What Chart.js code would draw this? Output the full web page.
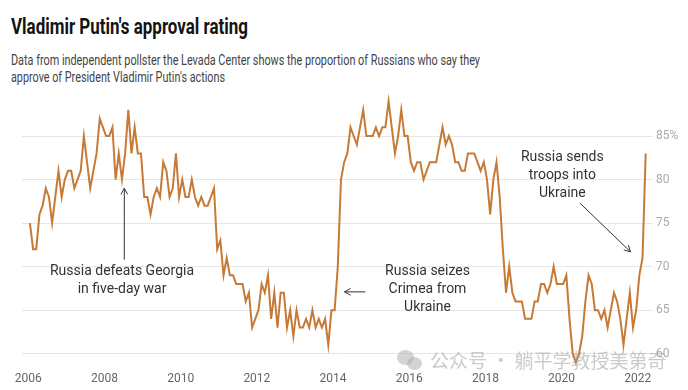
<!DOCTYPE html>
<html>
<head>
<meta charset="utf-8">
<script src="https://cdn.jsdelivr.net/npm/chart.js"></script>
<style>
  html, body { margin: 0; padding: 0; background: #fff; }
  body { width: 688px; height: 390px; position: relative; overflow: hidden; font-family: Roboto, sans-serif; }
  .txt { position: absolute; left: 11px; white-space: nowrap; line-height: 1; transform-origin: 0 0; }
  #title { top: 16px; font-size: 22px; font-weight: 700; color: #141414; }
  #sub1 { top: 53px; font-size: 14px; color: #444; }
  #sub2 { top: 70px; font-size: 14px; color: #444; }
  #mark { position: absolute; left: 430px; top: 350px; font-family: "Noto Sans CJK SC", sans-serif; font-size: 19px; color: rgba(160,160,160,0.55); white-space: nowrap; line-height: 1; }
  .bub { position: absolute; border-radius: 50%; background: rgba(170,170,170,0.5); }
  #chart { position: absolute; left: 0; top: 0; }
</style>
</head>
<body>
<div class="txt" id="title" data-w="237">Vladimir Putin's approval rating</div>
<div class="txt" id="sub1" data-w="469">Data from independent pollster the Levada Center shows the proportion of Russians who say they</div>
<div class="txt" id="sub2" data-w="214">approve of President Vladimir Putin's actions</div>
<canvas id="chart" width="688" height="390"></canvas>
<div class="bub" style="left:397px;top:350px;width:17px;height:15px;"></div>
<div class="bub" style="left:407px;top:357px;width:15px;height:13px;"></div>
<div id="mark">公众号 · 躺平学教授美第奇</div>
<script>
// monthly approval (%), Levada Center, Jan 2006 .. Mar 2022
const startYear = 2006;
const approval = [
  75, 72, 72, 76, 77, 79, 78, 75, 78, 81, 78, 80,   // 2006
  81, 81, 79, 80, 81, 85, 82, 79, 81, 83, 87, 86,   // 2007
  85, 85, 86, 80, 83, 80, 83, 88, 83, 86, 83, 83,   // 2008
  78, 78, 76, 78, 79, 78, 82, 81, 78, 79, 83, 78,   // 2009
  80, 78, 78, 80, 78, 77, 78, 77, 77, 78, 79, 72,   // 2010
  73, 69, 71, 69, 69, 68, 68, 68, 66, 67, 63, 64,   // 2011
  65, 68, 67, 69, 64, 67, 63, 67, 67, 63, 65, 62,   // 2012
  65, 63, 63, 64, 63, 65, 63, 64, 63, 64, 61, 65,   // 2013
  65, 70, 80, 82, 83, 86, 85, 84, 86, 88, 85, 85,   // 2014
  85, 86, 85, 86, 86, 89, 86, 83, 85, 88, 85, 85,   // 2015
  82, 81, 82, 82, 80, 81, 82, 82, 82, 84, 86, 84,   // 2016
  85, 84, 82, 82, 81, 81, 83, 83, 83, 82, 81, 82,   // 2017
  80, 76, 80, 82, 78, 72, 67, 70, 67, 66, 66, 66,   // 2018
  64, 64, 64, 66, 66, 68, 68, 67, 68, 70, 68, 68,   // 2019
  68, 69, 64, 60, 59, 60, 62, 66, 69, 68, 65, 65,   // 2020
  64, 65, 63, 65, 67, 66, 64, 61, 64, 67, 63, 65,   // 2021
  69, 71, 83                                        // 2022
];
const xTicks = [2006, 2008, 2010, 2012, 2014, 2016, 2018, 2020, 2022];
const yTicks = [60, 65, 70, 75, 80, 85];

const points = approval.map((v, i) => ({ x: startYear + (i + 0.5) / 12, y: v }));

// notes in data coordinates
const notes = [
  { lines: ['Russia defeats Georgia', 'in five-day war'], x: 2008.46, y: 69.4,
    arrow: [[2008.52, 70.8], [2008.52, 79.0]] },
  { lines: ['Russia seizes', 'Crimea from', 'Ukraine'], x: 2016.48, y: 69.4,
    arrow: [[2014.85, 67.1], [2014.3, 67.1]] },
  { lines: ['Russia sends', 'troops into', 'Ukraine'], x: 2020.02, y: 82.5,
    arrow: [[2020.48, 77.3], [2021.81, 71.7]] }
];

function drawArrow(ctx, x1, y1, x2, y2) {
  const a = Math.atan2(y2 - y1, x2 - x1), h = 7;
  ctx.beginPath();
  ctx.moveTo(x1, y1);
  ctx.lineTo(x2, y2);
  ctx.moveTo(x2 - h * Math.cos(a - 0.5), y2 - h * Math.sin(a - 0.5));
  ctx.lineTo(x2, y2);
  ctx.lineTo(x2 - h * Math.cos(a + 0.5), y2 - h * Math.sin(a + 0.5));
  ctx.stroke();
}

const notesPlugin = {
  id: 'notes',
  afterDatasetsDraw(chart) {
    const ctx = chart.ctx, xs = chart.scales.x, ys = chart.scales.y;
    ctx.save();
    ctx.fillStyle = '#333';
    ctx.strokeStyle = '#333';
    ctx.lineWidth = 1;
    ctx.font = '14px Roboto, sans-serif';
    ctx.textAlign = 'center';
    ctx.textBaseline = 'middle';
    notes.forEach(n => {
      const px = xs.getPixelForValue(n.x), py = ys.getPixelForValue(n.y);
      n.lines.forEach((t, i) => ctx.fillText(t, px, py + i * 17.7));
      const [a, b] = n.arrow;
      drawArrow(ctx, xs.getPixelForValue(a[0]), ys.getPixelForValue(a[1]),
                xs.getPixelForValue(b[0]), ys.getPixelForValue(b[1]));
    });
    ctx.restore();
  }
};

new Chart(document.getElementById('chart'), {
  type: 'line',
  data: {
    datasets: [{
      data: points,
      borderColor: '#c77a36',
      borderWidth: 2,
      pointRadius: 0,
      tension: 0
    }]
  },
  options: {
    responsive: false,
    animation: false,
    layout: { padding: { left: 22, right: 0, top: 92.5, bottom: 0 } },
    plugins: { legend: { display: false }, tooltip: { enabled: false } },
    scales: {
      x: {
        type: 'linear',
        min: 2005.834,
        max: 2022.4,
        grid: { display: false, drawTicks: false },
        border: { display: false },
        afterBuildTicks: axis => { axis.ticks = xTicks.map(v => ({ value: v })); },
        ticks: {
          padding: 4,
          color: '#666',
          font: { family: 'Roboto', size: 12 },
          maxRotation: 0,
          callback: v => String(v)
        }
      },
      y: {
        position: 'right',
        min: 58.4,
        max: 90,
        grid: { color: '#e6e6e6', drawTicks: false },
        border: { display: false },
        afterBuildTicks: axis => { axis.ticks = yTicks.map(v => ({ value: v })); },
        afterFit: axis => { axis.width = 35; },
        ticks: {
          padding: 3,
          color: '#aaa',
          font: { family: 'Roboto', size: 12 },
          callback: v => v === 85 ? v + '%' : v
        }
      }
    }
  },
  plugins: [notesPlugin]
});

// squeeze the heading lines to the narrow face of the original
document.querySelectorAll('.txt').forEach(el => {
  const w = el.getBoundingClientRect().width;
  el.style.transform = 'scaleX(' + (el.dataset.w / w) + ')';
});
</script>
</body>
</html>
